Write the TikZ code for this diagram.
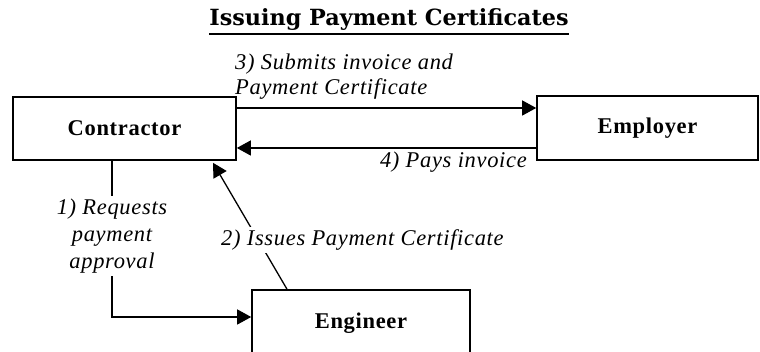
\documentclass[tikz,border=0pt]{standalone}
\usepackage{fontspec}
\setmainfont{Liberation Serif}[LetterSpace=3]
\newfontfamily\titlefont{DejaVu Serif}
\usetikzlibrary{arrows.meta}
\tikzset{
  box/.style={draw, line width=1.6pt, rectangle, inner sep=0pt, font=\fontsize{22.5}{26}\selectfont\bfseries},
  conn/.style={line width=1.3pt, -{Triangle[length=14pt,width=15pt]}},
  lbl/.style={font=\fontsize{22.5}{25}\selectfont\itshape, inner sep=1pt},
  wlbl/.style={lbl, fill=white, inner sep=3pt},
}
\begin{document}
\begin{tikzpicture}[x=1pt,y=1pt]
\useasboundingbox (0,0) rectangle (760,352);
\clip (0,0) rectangle (760,352);
\fill[white] (0,0) rectangle (760,352);
\node[font=\titlefont\fontsize{22.3}{26}\selectfont\bfseries, inner sep=0pt] (title) at (389,332) {Issuing Payment Certificates};
\draw[line width=1.8pt] ([yshift=-3pt]title.south west) -- ([yshift=-3pt]title.south east);
\node[box, minimum width=223pt, minimum height=63pt] (con) at (124.5,223.5) {Contractor};
\node[box, minimum width=221pt, minimum height=64pt] (emp) at (647.5,224) {Employer};
\node[box, minimum width=218pt, minimum height=66pt] (eng) at (361,29) {Engineer};
% 3)
\draw[conn] ([yshift=20.5pt]con.east) -- ([yshift=20pt]emp.west);
\node[lbl, anchor=west, align=left] (l3) at (234,275) {3) Submits invoice and\\Payment Certificate};
% 4)
\draw[conn] ([yshift=-20pt]emp.west) -- ([yshift=-19.5pt]con.east);
\node[lbl, anchor=east] (l4) at (528,190) {4) Pays invoice};
% 1)
\draw[conn] ([xshift=-12.5pt]con.south) |- ([yshift=6pt]eng.west);
\node[wlbl, align=center, font=\fontsize{22.5}{27}\selectfont\itshape] (l1) at (112,116) {1) Requests\\payment\\approval};
% 2)
\draw[conn] ([xshift=-74pt]eng.north) -- ([xshift=88.5pt,yshift=-2pt]con.south);
\node[wlbl, anchor=west] (l2) at (218,112) {2) Issues Payment Certificate};
\end{tikzpicture}
\end{document}
